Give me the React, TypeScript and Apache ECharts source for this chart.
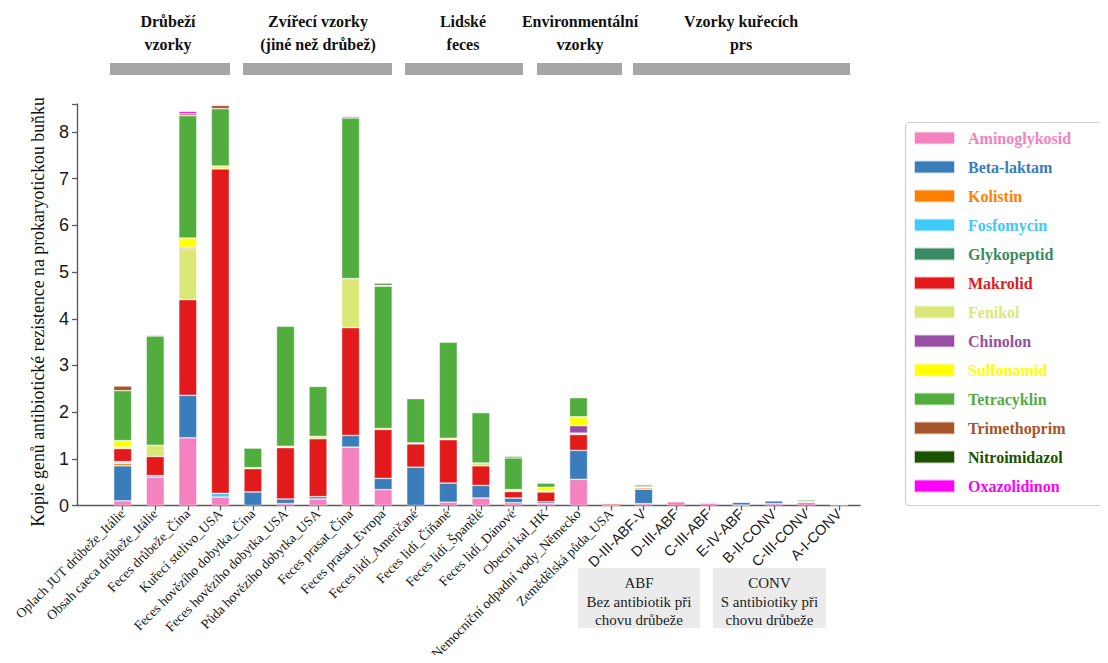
import React, { useEffect, useRef } from "react";
import * as echarts from "echarts";

const categories = [
  "Oplach JUT drůbeže_Itálie",
  "Obsah caeca drůbeže_Itálie",
  "Feces drůbeže_Čína",
  "Kuřecí stelivo_USA",
  "Feces hovězího dobytka_Čína",
  "Feces hovězího dobytka_USA",
  "Půda hovězího dobytka_USA",
  "Feces prasat_Čína",
  "Feces prasat_Evropa",
  "Feces lidí_Američané",
  "Feces lidí_Číňané",
  "Feces lidí_Španělé",
  "Feces lidí_Dánové",
  "Obecní kal_HK",
  "Nemocniční odpadní vody_Německo",
  "Zemědělská půda_USA",
  "D-III-ABF-V",
  "D-III-ABF",
  "C-III-ABF",
  "E-IV-ABF",
  "B-II-CONV",
  "C-III-CONV",
  "A-I-CONV",
];
const sansCategoryStart = 16;

const classNames = [
  "Aminoglykosid", "Beta-laktam", "Kolistin", "Fosfomycin", "Glykopeptid", "Makrolid",
  "Fenikol", "Chinolon", "Sulfonamid", "Tetracyklin", "Trimethoprim", "Nitroimidazol", "Oxazolidinon",
];
const classColors = [
  "#f482be", "#3b7cba", "#ff7f00", "#40c9fb", "#3a8a64", "#e31a1c",
  "#dbe878", "#984ea3", "#ffff00", "#52ad3f", "#a65628", "#1b5200", "#ff00ff",
];

const aminoglykosid = [0.10, 0.61, 1.45, 0.18, 0.00, 0.04, 0.14, 1.25, 0.34, 0.00, 0.07, 0.16, 0.06, 0.04, 0.56, 0.01, 0.04, 0.08, 0.05, 0.01, 0.04, 0.07, 0.02];
const betaLaktam = [0.75, 0.03, 0.91, 0.00, 0.29, 0.10, 0.05, 0.25, 0.24, 0.82, 0.41, 0.27, 0.10, 0.04, 0.62, 0.00, 0.31, 0.01, 0.02, 0.06, 0.06, 0.02, 0.01];
const kolistin = [0.05, 0, 0, 0, 0, 0, 0, 0, 0, 0, 0, 0, 0, 0, 0, 0, 0.03, 0, 0, 0, 0, 0, 0];
const fosfomycin = [0.03, 0, 0, 0.08, 0, 0, 0, 0, 0, 0, 0, 0, 0, 0, 0, 0, 0, 0, 0, 0, 0, 0, 0];
const glykopeptid = [0.01, 0, 0, 0, 0, 0, 0, 0, 0, 0, 0, 0, 0, 0, 0, 0, 0, 0, 0, 0, 0, 0, 0];
const makrolid = [0.28, 0.41, 2.05, 6.95, 0.50, 1.10, 1.24, 2.31, 1.05, 0.50, 0.93, 0.42, 0.14, 0.21, 0.34, 0.03, 0.01, 0, 0, 0.01, 0, 0, 0];
const fenikol = [0.03, 0.24, 1.09, 0, 0.02, 0.03, 0, 1.05, 0, 0.02, 0, 0.06, 0.02, 0.02, 0.03, 0, 0.01, 0, 0, 0, 0, 0, 0];
const chinolon = [0, 0, 0.03, 0, 0, 0, 0, 0, 0, 0, 0, 0, 0, 0, 0.16, 0, 0, 0.01, 0.01, 0, 0.01, 0, 0.01];
const sulfonamid = [0.14, 0, 0.20, 0.06, 0, 0, 0.05, 0, 0.02, 0, 0.03, 0, 0.02, 0.08, 0.19, 0, 0, 0, 0, 0, 0, 0, 0];
const tetracyklin = [1.07, 2.34, 2.62, 1.23, 0.42, 2.57, 1.07, 3.44, 3.05, 0.95, 2.06, 1.08, 0.68, 0.09, 0.41, 0, 0.04, 0, 0, 0, 0, 0.03, 0];
const trimethoprim = [0.10, 0.02, 0.04, 0.07, 0, 0, 0, 0, 0.02, 0, 0, 0, 0, 0, 0.01, 0, 0, 0.01, 0, 0, 0, 0, 0];
const nitroimidazol = [0, 0, 0, 0, 0, 0, 0, 0, 0.04, 0, 0, 0, 0.03, 0, 0, 0, 0, 0, 0, 0, 0, 0, 0];
const oxazolidinon = [0, 0, 0.05, 0, 0, 0, 0, 0.03, 0, 0, 0, 0, 0, 0, 0, 0, 0, 0, 0, 0, 0, 0, 0];

const seriesValues = [
  aminoglykosid, betaLaktam, kolistin, fosfomycin, glykopeptid, makrolid,
  fenikol, chinolon, sulfonamid, tetracyklin, trimethoprim, nitroimidazol, oxazolidinon,
];

const yTicks = [0, 1, 2, 3, 4, 5, 6, 7, 8];
const yMax = 8.6;

const groupTitles = [
  { text: "Drůbeží\nvzorky", cx: 168, x0: 110, x1: 230 },
  { text: "Zvířecí vzorky\n(jiné než drůbež)", cx: 318, x0: 243, x1: 392 },
  { text: "Lidské\nfeces", cx: 463, x0: 405, x1: 523 },
  { text: "Environmentální\nvzorky", cx: 580, x0: 537, x1: 622 },
  { text: "Vzorky kuřecích\nprs", cx: 741, x0: 633, x1: 850 },
];

const farmBoxes = [
  { text: "ABF\nBez antibiotik při\nchovu drůbeže", x: 578, w: 122 },
  { text: "CONV\nS antibiotiky při\nchovu drůbeže", x: 713, w: 113 },
];

const yTitle = "Kopie genů antibiotické rezistence na prokaryotickou buňku";

export default function App() {
  const ref = useRef<HTMLDivElement>(null);
  useEffect(() => {
    if (!ref.current) return;
    const chart = echarts.init(ref.current, null, { renderer: "svg" });
    const serif = "'Liberation Serif', 'Times New Roman', serif";
    const sans = "'Liberation Sans', Arial, sans-serif";
    const axisColor = "#5a5a5a";
    const gridTop = 104;
    const gridBottom = 157.5;

    const series = classNames.map((name, si) => ({
      name,
      type: "bar",
      stack: "total",
      xAxisIndex: 1,
      yAxisIndex: 1,
      barWidth: 18,
      itemStyle: { color: classColors[si], borderColor: "rgba(255,255,255,0.75)", borderWidth: 0.6 },
      data: seriesValues[si].map((v) =>
        v > 0 ? v : { value: 0, itemStyle: { borderWidth: 0 } }
      ),
    }));

    const graphics: any[] = [];
    groupTitles.forEach((g) => {
      graphics.push({
        type: "text",
        x: g.cx,
        y: 10,
        style: {
          text: g.text,
          fontFamily: serif,
          fontWeight: "bold",
          fontSize: 16,
          lineHeight: 23,
          fill: "#111",
          textAlign: "center",
          textVerticalAlign: "top",
        },
      });
      graphics.push({
        type: "rect",
        shape: { x: g.x0, y: 63, width: g.x1 - g.x0, height: 12 },
        style: { fill: "#a6a6a6" },
      });
    });
    farmBoxes.forEach((b) => {
      graphics.push({
        type: "rect",
        shape: { x: b.x, y: 568, width: b.w, height: 60 },
        style: { fill: "#ebebeb" },
      });
      graphics.push({
        type: "text",
        x: b.x + b.w / 2,
        y: 574,
        style: {
          text: b.text,
          fontFamily: serif,
          fontSize: 15,
          lineHeight: 18.5,
          fill: "#222",
          textAlign: "center",
          textVerticalAlign: "top",
        },
      });
    });
    graphics.push({
      type: "text",
      x: 38,
      y: 312,
      rotation: Math.PI / 2,
      style: {
        text: yTitle,
        fontFamily: serif,
        fontSize: 17.8,
        fill: "#111",
        textAlign: "center",
        textVerticalAlign: "middle",
      },
    });
    graphics.push({
      type: "rect",
      shape: { x: 905.5, y: 122.5, width: 230, height: 383, r: 4 },
      style: { fill: "none", stroke: "#cfcfcf", lineWidth: 1.2 },
    });

    chart.setOption({
      animation: false,
      backgroundColor: "#fff",
      grid: [
        { left: 77, right: 248, top: gridTop, bottom: gridBottom, outerBoundsMode: "none", containLabel: false },
        { left: 106.4, right: 252.7, top: gridTop, bottom: gridBottom, outerBoundsMode: "none", containLabel: false },
      ],
      xAxis: [
        {
          type: "value",
          gridIndex: 0,
          min: 0,
          max: 1,
          axisLine: { show: true, lineStyle: { color: axisColor, width: 1.4 } },
          axisTick: { show: false },
          axisLabel: { show: false },
          splitLine: { show: false },
        },
        {
          type: "category",
          gridIndex: 1,
          data: categories,
          boundaryGap: true,
          axisLine: { show: false },
          axisTick: { show: true, alignWithLabel: true, length: 5, lineStyle: { color: axisColor, width: 1.3 } },
          axisLabel: {
            interval: 0,
            rotate: 45,
            margin: 6,
            hideOverlap: false,
            fontFamily: serif,
            fontSize: 13.7,
            color: "#1a1a1a",
            formatter: (value: string, index: number) =>
              index >= sansCategoryStart ? `{s|${value}}` : value,
            rich: {
              s: { fontFamily: sans, fontSize: 14.5, color: "#1a1a1a" },
            },
          },
          splitLine: { show: false },
        },
      ],
      yAxis: [
        {
          type: "value",
          gridIndex: 0,
          min: 0,
          max: yMax,
          interval: 1,
          axisLine: { show: true, lineStyle: { color: axisColor, width: 1.4 } },
          axisTick: { show: true, length: 5, lineStyle: { color: axisColor, width: 1.3 } },
          axisLabel: {
            margin: 8,
            fontFamily: sans,
            fontSize: 18,
            color: "#1a1a1a",
            formatter: (v: number) => (yTicks.includes(v) ? String(v) : ""),
          },
          splitLine: { show: false },
        },
        {
          type: "value",
          gridIndex: 1,
          min: 0,
          max: yMax,
          show: false,
          splitLine: { show: false },
        },
      ],
      legend: {
        orient: "vertical",
        left: 913,
        top: 130,
        padding: 0,
        itemWidth: 41,
        itemHeight: 13,
        itemGap: 13,
        icon: "rect",
        selectedMode: false,
        data: classNames.map((n, i) => ({
          name: n,
          textStyle: { color: classColors[i] },
        })),
        textStyle: {
          fontFamily: serif,
          fontWeight: "bold",
          fontSize: 16,
          lineHeight: 16,
          padding: [0, 0, 0, 8],
        },
      },
      graphic: graphics,
      series,
    });
    return () => chart.dispose();
  }, []);
  return <div ref={ref} style={{ width: 1108, height: 663, margin: -8 }} />;
}
